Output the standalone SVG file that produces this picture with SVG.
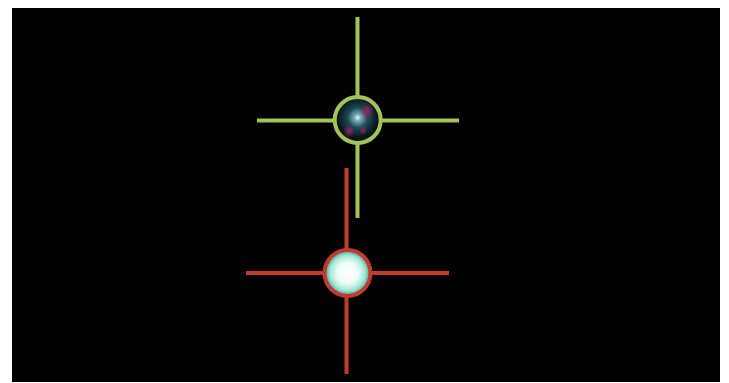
<svg xmlns="http://www.w3.org/2000/svg" width="729" height="383" viewBox="0 0 729 383">
<style>
.g{stroke:#a3c25a;stroke-width:4;fill:none}
.r{stroke:#c03a30;stroke-width:4;fill:none}
</style>
<defs>
<radialGradient id="dark" cx="0.5" cy="0.45" r="0.55">
<stop offset="0" stop-color="#f4fbff"/>
<stop offset="0.12" stop-color="#7fb0c0"/>
<stop offset="0.4" stop-color="#1a4a52"/>
<stop offset="0.75" stop-color="#0a1a20"/>
<stop offset="1" stop-color="#04080b"/>
</radialGradient>
<radialGradient id="mag" cx="0.5" cy="0.5" r="0.5">
<stop offset="0" stop-color="#a8206a" stop-opacity="0.85"/>
<stop offset="1" stop-color="#a8206a" stop-opacity="0"/>
</radialGradient>
<radialGradient id="light" cx="0.5" cy="0.5" r="0.5">
<stop offset="0" stop-color="#ffffff"/>
<stop offset="0.45" stop-color="#eefbf8"/>
<stop offset="0.75" stop-color="#a8e6d8"/>
<stop offset="1" stop-color="#2fa88a"/>
</radialGradient>
</defs>
<rect x="0" y="0" width="729" height="383" fill="#ffffff"/>
<rect x="12" y="8" width="708" height="374" fill="#000000"/>
<g id="connectors">
<line class="g" x1="257" y1="120.5" x2="459" y2="120.5"/>
<line class="g" x1="357.5" y1="17" x2="357.5" y2="218"/>
<line class="r" x1="246" y1="273" x2="449" y2="273"/>
<line class="r" x1="346.5" y1="168" x2="346.5" y2="374"/>
</g>
<g id="node-top">
<circle cx="357.7" cy="120" r="23" fill="url(#dark)"/>
<ellipse cx="367" cy="111" rx="7" ry="9" fill="url(#mag)"/>
<ellipse cx="349" cy="131" rx="6" ry="7" fill="url(#mag)"/>
<ellipse cx="363" cy="130" rx="4" ry="5" fill="url(#mag)"/>
<circle cx="357.7" cy="120" r="23" class="g"/>
</g>
<g id="node-bottom">
<circle cx="347.5" cy="273" r="23" fill="url(#light)"/>
<circle cx="347.5" cy="273" r="23" class="r"/>
</g>
</svg>
